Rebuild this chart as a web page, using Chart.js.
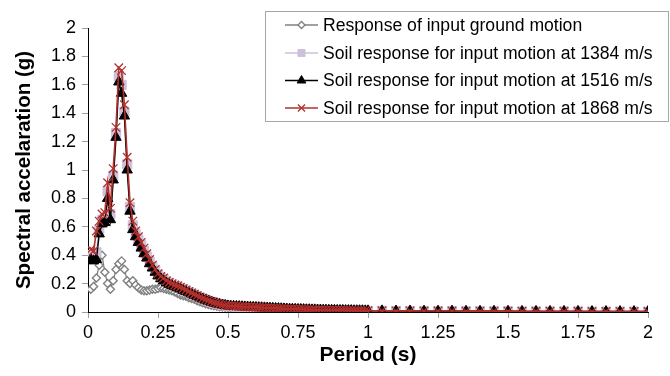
<!DOCTYPE html>
<html>
  <head>
    <meta charset="utf-8">
    <script src="https://cdn.jsdelivr.net/npm/chart.js@4/dist/chart.umd.min.js"></script>
    <style>
      body { margin: 0; background: #fff; }
      #wrap { width: 670px; height: 376px; }
    </style>
  </head>
  <body>
    <div id="wrap">
      <canvas id="spectraChart" width="670" height="376"></canvas>
    </div>
    <script>
      // periods (s): 0.01 step up to 1 s, then 0.05 step up to 2 s
      const periods = [
        0.01,0.02,0.03,0.04,0.05,0.06,0.07,0.08,0.09,0.10,
        0.11,0.12,0.13,0.14,0.15,0.16,0.17,0.18,0.19,0.20,
        0.21,0.22,0.23,0.24,0.25,0.26,0.27,0.28,0.29,0.30,
        0.31,0.32,0.33,0.34,0.35,0.36,0.37,0.38,0.39,0.40,
        0.41,0.42,0.43,0.44,0.45,0.46,0.47,0.48,0.49,0.50,
        0.51,0.52,0.53,0.54,0.55,0.56,0.57,0.58,0.59,0.60,
        0.61,0.62,0.63,0.64,0.65,0.66,0.67,0.68,0.69,0.70,
        0.71,0.72,0.73,0.74,0.75,0.76,0.77,0.78,0.79,0.80,
        0.81,0.82,0.83,0.84,0.85,0.86,0.87,0.88,0.89,0.90,
        0.91,0.92,0.93,0.94,0.95,0.96,0.97,0.98,0.99,1.00,
        1.05,1.10,1.15,1.20,1.25,1.30,1.35,1.40,1.45,1.50,
        1.55,1.60,1.65,1.70,1.75,1.80,1.85,1.90,1.95,2.00
      ];

      const inputMotion = [
        0.16,0.18,0.24,0.33,0.40,0.28,0.20,0.16,0.22,0.30,
        0.34,0.36,0.30,0.22,0.20,0.22,0.19,0.17,0.155,0.15,
        0.15,0.155,0.16,0.16,0.165,0.17,0.165,0.16,0.155,0.15,
        0.14,0.13,0.12,0.115,0.11,0.10,0.095,0.09,0.08,0.072,
        0.065,0.058,0.052,0.048,0.044,0.040,0.037,0.035,0.033,0.032,
        0.031,0.030,0.029,0.028,0.027,0.026,0.025,0.024,0.023,0.022,
        0.021,0.020,0.019,0.019,0.018,0.017,0.017,0.016,0.016,0.015,
        0.015,0.014,0.014,0.013,0.013,0.012,0.012,0.012,0.011,0.011,
        0.011,0.010,0.010,0.010,0.009,0.009,0.009,0.009,0.008,0.008,
        0.008,0.008,0.007,0.007,0.007,0.007,0.007,0.006,0.006,0.006,
        0.006,0.005,0.005,0.005,0.005,0.004,0.004,0.004,0.004,0.004,
        0.004,0.003,0.003,0.003,0.003,0.003,0.003,0.003,0.003,0.003
      ];

      const soil1384 = [
        0.40,0.39,0.42,0.58,0.65,0.66,0.85,0.69,0.96,1.26,
        1.66,1.60,1.41,1.04,0.74,0.61,0.55,0.51,0.47,0.43,
        0.39,0.355,0.32,0.29,0.262,0.242,0.23,0.212,0.202,0.192,
        0.184,0.177,0.168,0.159,0.149,0.140,0.130,0.121,0.111,0.102,
        0.094,0.086,0.078,0.071,0.065,0.060,0.055,0.050,0.047,0.044,
        0.042,0.040,0.039,0.038,0.037,0.036,0.035,0.034,0.033,0.032,
        0.031,0.030,0.029,0.028,0.027,0.026,0.025,0.024,0.023,0.022,
        0.021,0.020,0.020,0.019,0.018,0.018,0.017,0.016,0.016,0.015,
        0.015,0.014,0.014,0.013,0.013,0.012,0.012,0.012,0.011,0.011,
        0.011,0.010,0.010,0.010,0.009,0.009,0.009,0.009,0.008,0.008,
        0.008,0.007,0.007,0.006,0.006,0.006,0.005,0.005,0.005,0.005,
        0.004,0.004,0.004,0.004,0.004,0.003,0.003,0.003,0.003,0.003
      ];

      const soil1516 = [
        0.37,0.36,0.37,0.55,0.62,0.63,0.80,0.65,0.93,1.23,
        1.62,1.54,1.38,1.00,0.71,0.58,0.53,0.49,0.45,0.41,
        0.38,0.34,0.31,0.28,0.255,0.235,0.22,0.205,0.195,0.185,
        0.178,0.170,0.162,0.153,0.144,0.135,0.126,0.117,0.108,0.099,
        0.091,0.083,0.076,0.069,0.063,0.058,0.053,0.049,0.046,0.043,
        0.041,0.040,0.039,0.038,0.037,0.036,0.035,0.034,0.033,0.032,
        0.031,0.030,0.029,0.028,0.027,0.026,0.025,0.024,0.023,0.022,
        0.021,0.020,0.020,0.019,0.018,0.018,0.017,0.016,0.016,0.015,
        0.015,0.014,0.014,0.013,0.013,0.012,0.012,0.012,0.011,0.011,
        0.011,0.010,0.010,0.010,0.009,0.009,0.009,0.009,0.008,0.008,
        0.008,0.007,0.007,0.006,0.006,0.006,0.005,0.005,0.005,0.005,
        0.004,0.004,0.004,0.004,0.004,0.003,0.003,0.003,0.003,0.003
      ];

      const soil1868 = [
        0.44,0.43,0.57,0.64,0.69,0.70,0.91,0.73,1.01,1.30,
        1.72,1.70,1.46,1.09,0.77,0.64,0.57,0.53,0.49,0.45,
        0.41,0.37,0.33,0.30,0.27,0.25,0.24,0.22,0.21,0.20,
        0.19,0.185,0.175,0.165,0.155,0.145,0.135,0.125,0.115,0.105,
        0.097,0.089,0.081,0.074,0.067,0.061,0.056,0.052,0.048,0.045,
        0.043,0.041,0.040,0.039,0.038,0.037,0.036,0.035,0.034,0.033,
        0.032,0.031,0.030,0.029,0.028,0.027,0.026,0.025,0.024,0.023,
        0.022,0.021,0.021,0.020,0.019,0.019,0.018,0.017,0.017,0.016,
        0.016,0.015,0.015,0.014,0.014,0.013,0.013,0.013,0.012,0.012,
        0.012,0.011,0.011,0.011,0.010,0.010,0.010,0.010,0.009,0.009,
        0.009,0.008,0.008,0.007,0.007,0.007,0.006,0.006,0.006,0.006,
        0.005,0.005,0.005,0.005,0.005,0.004,0.004,0.004,0.004,0.004
      ];

      const seriesLabels = [
        'Response of input ground motion',
        'Soil response for input motion at 1384 m/s',
        'Soil response for input motion at 1516 m/s',
        'Soil response for input motion at 1868 m/s'
      ];

      const FONT = "'Liberation Sans', Arial, sans-serif";

      function pts(values) {
        return periods.map((p, i) => ({ x: p, y: values[i] }));
      }

      function fmt(v) {
        return String(+v.toFixed(2));
      }

      // legend box drawn inside the plot, like the original
      const boxLegend = {
        id: 'boxLegend',
        afterDraw(chart) {
          const ctx = chart.ctx;
          const left = 265.5, top = 11.5, w = 403, h = 110;
          ctx.save();
          ctx.fillStyle = '#fff';
          ctx.fillRect(left, top, w, h);
          ctx.strokeStyle = '#a6a6a6';
          ctx.lineWidth = 1;
          ctx.strokeRect(left, top, w, h);

          const rows = [25, 53, 80.5, 108];
          const legendRadius = [3.5, 5, 5, 5];
          chart.data.datasets.forEach((ds, i) => {
            const y = rows[i];
            ctx.strokeStyle = ds.borderColor;
            ctx.lineWidth = ds.borderWidth;
            ctx.beginPath();
            ctx.moveTo(285, y);
            ctx.lineTo(318, y);
            ctx.stroke();
            ctx.fillStyle = ds.pointBackgroundColor;
            ctx.strokeStyle = ds.pointBorderColor;
            ctx.lineWidth = ds.pointBorderWidth;
            Chart.helpers.drawPoint(ctx, {
              pointStyle: ds.pointStyle,
              radius: legendRadius[i],
              rotation: 0,
              borderWidth: ds.pointBorderWidth
            }, 301.5, y);
            ctx.fillStyle = '#000';
            ctx.font = '17.6px ' + FONT;
            ctx.textBaseline = 'middle';
            ctx.textAlign = 'left';
            ctx.fillText(ds.label, 323, y + 1);
          });
          ctx.restore();
        }
      };

      const ctx = document.getElementById('spectraChart');

      new Chart(ctx, {
        type: 'scatter',
        data: {
          datasets: [
            {
              label: seriesLabels[0],
              data: pts(inputMotion),
              showLine: true,
              borderColor: '#808080',
              borderWidth: 1.3,
              pointStyle: 'rectRot',
              pointRadius: 4,
              pointBackgroundColor: '#fff',
              pointBorderColor: '#808080',
              pointBorderWidth: 1.4,
              order: 4
            },
            {
              label: seriesLabels[1],
              data: pts(soil1384),
              showLine: true,
              borderColor: '#ccc0da',
              borderWidth: 1.5,
              pointStyle: 'rect',
              pointRadius: 6.5,
              pointBackgroundColor: '#ccc0da',
              pointBorderColor: '#ccc0da',
              pointBorderWidth: 1,
              order: 3
            },
            {
              label: seriesLabels[2],
              data: pts(soil1516),
              showLine: true,
              borderColor: '#000',
              borderWidth: 1.5,
              pointStyle: 'triangle',
              pointRadius: 6,
              pointBackgroundColor: '#000',
              pointBorderColor: '#000',
              pointBorderWidth: 1,
              order: 2
            },
            {
              label: seriesLabels[3],
              data: pts(soil1868),
              showLine: true,
              borderColor: '#b3302c',
              borderWidth: 1.6,
              pointStyle: 'crossRot',
              pointRadius: 6,
              pointBackgroundColor: '#b3302c',
              pointBorderColor: '#b3302c',
              pointBorderWidth: 1.3,
              order: 1
            }
          ]
        },
        options: {
          responsive: false,
          animation: false,
          layout: { padding: { left: 8, top: 28, right: 22, bottom: 4 } },
          plugins: {
            legend: { display: false },
            tooltip: { enabled: false }
          },
          scales: {
            x: {
              type: 'linear',
              min: 0,
              max: 2,
              afterFit: s => { s.height = 60; },
              ticks: {
                stepSize: 0.25,
                color: '#000',
                font: { family: FONT, size: 18 },
                padding: 4,
                maxRotation: 0,
                callback: fmt
              },
              grid: { drawOnChartArea: false, tickLength: 6, color: '#a0a0a0' },
              border: { color: '#000', width: 1 },
              title: {
                display: true,
                text: 'Period (s)',
                color: '#000',
                font: { family: FONT, size: 21, weight: 'bold' },
                padding: { top: 0 }
              }
            },
            y: {
              min: 0,
              max: 2,
              afterFit: s => { s.width = 80; },
              ticks: {
                stepSize: 0.2,
                color: '#000',
                font: { family: FONT, size: 18 },
                padding: 6,
                callback: fmt
              },
              grid: { drawOnChartArea: false, tickLength: 6, color: '#a0a0a0' },
              border: { color: '#000', width: 1 },
              title: {
                display: true,
                text: 'Spectral accelaration (g)',
                color: '#000',
                font: { family: FONT, size: 20.5, weight: 'bold' },
                padding: { bottom: 0 }
              }
            }
          }
        },
        plugins: [boxLegend]
      });
    </script>
  </body>
</html>
